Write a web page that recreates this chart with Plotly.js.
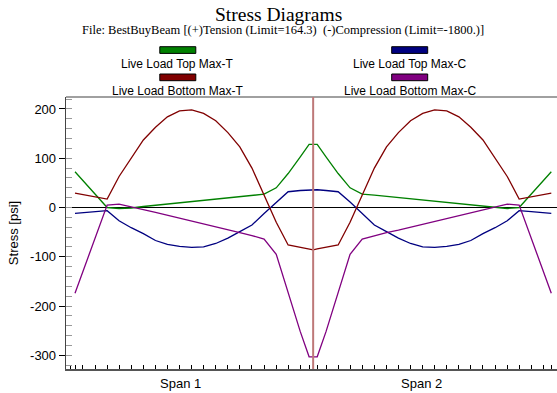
<!DOCTYPE html>
<html>
<head>
<meta charset="utf-8">
<script src="https://cdn.plot.ly/plotly-3.0.1.min.js"></script>
<style>html,body{margin:0;padding:0;background:#fff;}#chart{width:557px;height:393px;}</style>
</head>
<body>
<div id="chart"></div>
<script>
// Section positions along the beam (span units: support 1 = 0, middle support = 1, end support = 2)
const positions = [0, 0.032, 0.084, 0.135, 0.185, 0.236, 0.287, 0.338, 0.388, 0.439, 0.490, 0.540, 0.591, 0.642, 0.692, 0.743, 0.794, 0.845, 0.895, 0.946, 0.983, 1.000,
  1.017, 1.054, 1.105, 1.155, 1.206, 1.257, 1.308, 1.358, 1.409, 1.460, 1.510, 1.561, 1.612, 1.662, 1.713, 1.764, 1.815, 1.865, 1.916, 1.968, 2.000];
const beamEnds = [-0.021, 2.021];
const supports = [1];

const topMaxT = [72.5, 55, 27, 0, -2, -1, 2, 4.5, 7, 9.5, 12, 15, 17.5, 20, 22.5, 25, 27, 40, 69, 103, 128, 128,
  128, 103, 69, 40, 27, 25, 22.5, 20, 17.5, 15, 12, 9.5, 7, 4.5, 2, -1, -2, 0, 27, 55, 72.5];
const topMaxC = [-12, -10.5, -8.5, -6.5, -27, -41, -53, -67, -75, -79, -81, -80, -73, -62, -49, -35.5, -12, 11, 32, 34.5, 36, 36.5,
  36, 34.5, 32, 11, -12, -35.5, -49, -62, -73, -80, -81, -79, -75, -67, -53, -41, -27, -6.5, -8.5, -10.5, -12];
const bottomMaxT = [29, 26, 21.5, 17, 63, 100, 137, 163, 184, 196, 198, 191, 176, 152, 123, 80, 26, -30, -76, -81, -84, -86,
  -84, -81, -76, -30, 26, 80, 123, 152, 176, 191, 198, 196, 184, 163, 137, 100, 63, 17, 21.5, 26, 29];
const bottomMaxC = [-174, -131, -62, 5, 7, 2, -4.5, -10, -16, -22, -28, -34, -40, -46, -51, -57, -64, -95, -173, -252, -303, -303,
  -303, -252, -173, -95, -64, -57, -51, -46, -40, -34, -28, -22, -16, -10, -4.5, 2, 7, 5, -62, -131, -174];

const seriesNames = ["Live Load Top Max-T", "Live Load Top Max-C", "Live Load Bottom Max-T", "Live Load Bottom Max-C"];
const seriesColors = ["#008000", "#000080", "#800000", "#800080"];
const seriesValues = [topMaxT, topMaxC, bottomMaxT, bottomMaxC];

const yTickVals = [-300, -200, -100, 0, 100, 200];
const yTickText = ["-300", "-200", "-100", "0", "100", "200"];
const spanLabels = ["Span 1", "Span 2"];
const spanLabelPos = [0.443, 1.456];

const titleText = "Stress Diagrams";
const subtitleText = "File: BestBuyBeam [(+)Tension (Limit=164.3)\u00a0 (-)Compression (Limit=-1800.)]";

// layout geometry (pixels)
const W = 557, H = 393, L = 66, R = 0, T = 97, B = 24;
const pw = W - L - R, ph = H - T - B;
const px = x => (x - L) / pw;
const py = y => (H - B - y) / ph;

const sans = "Liberation Sans, Arial, sans-serif";
const serif = "Liberation Serif, Times New Roman, serif";

const traces = seriesValues.map((v, i) => ({
  type: "scatter", mode: "lines", x: positions, y: v, name: seriesNames[i],
  line: {color: seriesColors[i], width: 1.3}, hoverinfo: "skip"
}));

const annotations = [];
const shapes = [];
annotations.push({xref: "paper", yref: "paper", x: px(278.5), y: py(14), text: titleText, showarrow: false,
  xanchor: "center", yanchor: "middle", font: {family: serif, size: 19.5, color: "#000"}});
annotations.push({xref: "paper", yref: "paper", x: px(282.5), y: py(30), text: subtitleText, showarrow: false,
  xanchor: "center", yanchor: "middle", font: {family: serif, size: 12.5, color: "#000"}});

// legend: 2 columns, swatch above label
const legCols = [177.8, 409.7];
const legRows = [{sw: 46.7, lab: 64}, {sw: 74, lab: 90.5}];
const legOrder = [[0, 0, 0], [1, 1, 0], [2, 0, 1], [3, 1, 1]];
legOrder.forEach(([si, c, r]) => {
  const cx = legCols[c], sy = legRows[r].sw;
  shapes.push({type: "rect", xref: "paper", yref: "paper", x0: px(cx - 18), x1: px(cx + 18), y0: py(sy + 6.7), y1: py(sy),
    fillcolor: seriesColors[si], line: {color: "#000", width: 1}, layer: "above"});
  annotations.push({xref: "paper", yref: "paper", x: px(cx), y: py(legRows[r].lab), text: seriesNames[si], showarrow: false,
    xanchor: "center", yanchor: "middle", font: {family: sans, size: 12, color: "#000"}});
});

spanLabels.forEach((s, i) => {
  annotations.push({xref: "x", yref: "paper", x: spanLabelPos[i], y: py(383), text: s, showarrow: false,
    xanchor: "center", yanchor: "middle", font: {family: sans, size: 13, color: "#000"}});
});

// top frame line
shapes.push({type: "line", xref: "paper", yref: "paper", x0: 0, x1: 1, y0: 1, y1: 1, line: {color: "#808080", width: 1.5}});
// middle support line
supports.forEach(s => shapes.push({type: "line", xref: "x", yref: "paper", x0: s, x1: s, y0: 0, y1: 1,
  line: {color: "rgb(190,120,120)", width: 2}, layer: "above"}));

const layout = {
  width: W, height: H, margin: {l: L, r: R, t: T, b: B}, showlegend: false,
  paper_bgcolor: "#fff", plot_bgcolor: "#fff",
  xaxis: {range: [(66 - 75) / 238.15, (557 - 75) / 238.15], showgrid: false, zeroline: false, showline: true,
    linecolor: "#555", linewidth: 1.5, tickmode: "array", tickvals: beamEnds.concat(positions), ticks: "inside",
    ticklen: 4, tickcolor: "#000", tickwidth: 1, showticklabels: false, fixedrange: true},
  yaxis: {range: [-327.8, 224.3], showgrid: false, zeroline: true, zerolinecolor: "#000", zerolinewidth: 1,
    showline: true, linecolor: "#444", linewidth: 1.3, tickmode: "array", tickvals: yTickVals, ticktext: yTickText,
    ticks: "outside", ticklen: 6, tickcolor: "#000", tickwidth: 1,
    minor: {tickmode: "linear", tick0: 0, dtick: 20, ticks: "inside", ticklen: 6, tickcolor: "#999", tickwidth: 1},
    tickfont: {family: sans, size: 13, color: "#000"},
    title: {text: "Stress [psi]", font: {family: sans, size: 13, color: "#000"}, standoff: 8}, fixedrange: true},
  annotations: annotations, shapes: shapes
};

Plotly.newPlot("chart", traces, layout, {displayModeBar: false, staticPlot: true});
</script>
</body>
</html>
